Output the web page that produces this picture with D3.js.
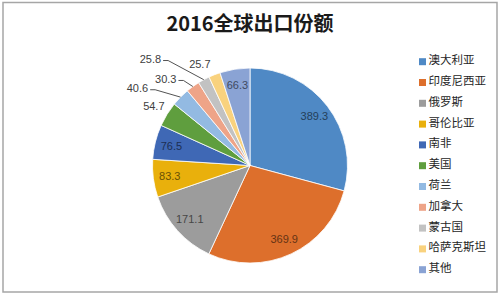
<!DOCTYPE html>
<html>
<head>
<meta charset="utf-8">
<script src="https://cdn.jsdelivr.net/npm/d3@7"></script>
<style>
  body { margin: 0; background: #fff; }
  svg { display: block; font-family: "Liberation Sans", "Noto Sans CJK SC", sans-serif; }
</style>
</head>
<body>
<div id="chart"></div>
<script>
const countries = ["澳大利亚", "印度尼西亚", "俄罗斯", "哥伦比亚", "南非", "美国", "荷兰", "加拿大", "蒙古国", "哈萨克斯坦", "其他"];
const shares = [389.3, 369.9, 171.1, 83.3, 76.5, 54.7, 40.6, 30.3, 25.8, 25.7, 66.3];
const palette = ["#4f89c5", "#dd6f2c", "#9c9c9c", "#e9b00c", "#3f68b5", "#5f9e3e",
                 "#93bae2", "#eea488", "#c2c2c2", "#f9d27e", "#8aa3d4"];

// labels drawn outside the pie (small slices), with nudges to mimic Excel's manual placement
const outside = ["美国", "荷兰", "加拿大", "蒙古国", "哈萨克斯坦"];
const labelShift = { "荷兰": [-32, 2], "加拿大": [-18, 5], "蒙古国": [-46, -7], "哈萨克斯坦": [-9, 4] };
const withLeader = ["荷兰", "加拿大", "蒙古国"];

const data = countries.map((c, i) => ({ country: c, value: shares[i], color: palette[i] }));

const W = 500, H = 295;
const cx = 250, cy = 165.5, R = 97.5;

const svg = d3.select("#chart").append("svg")
  .attr("width", W)
  .attr("height", H);

// chart frame
svg.append("rect")
  .attr("x", 3).attr("y", 2.5)
  .attr("width", 494).attr("height", 289.5)
  .attr("fill", "none")
  .attr("stroke", "#a6a6a6")
  .attr("stroke-width", 1.5);

svg.append("text")
  .attr("x", 250).attr("y", 31)
  .attr("text-anchor", "middle")
  .attr("font-size", 20)
  .attr("font-weight", "bold")
  .attr("fill", "#1a1a1a")
  .attr("font-family", "'Noto Sans CJK SC', sans-serif")
  .text("2016全球出口份额");

const pie = d3.pie().sort(null).value(d => d.value);
const arcs = pie(data);
const arc = d3.arc().innerRadius(0).outerRadius(R);

const g = svg.append("g").attr("transform", `translate(${cx},${cy})`);

g.selectAll("path.slice")
  .data(arcs)
  .enter()
  .append("path")
  .attr("class", "slice")
  .attr("d", arc)
  .attr("fill", d => d.data.color)
  .attr("stroke", "#fff")
  .attr("stroke-width", 0.8);

const mid = d => (d.startAngle + d.endAngle) / 2;
const polar = (a, r) => [Math.sin(a) * r, -Math.cos(a) * r];

// labels
arcs.forEach(d => {
  const isOut = outside.includes(d.data.country);
  let [x, y] = polar(mid(d), isOut ? 113 : 81);
  const sh = labelShift[d.data.country];
  if (sh) { x += sh[0]; y += sh[1]; }

  const t = g.append("text")
    .attr("x", x).attr("y", y)
    .attr("dy", "0.35em")
    .attr("text-anchor", "middle")
    .attr("font-size", 11)
    .attr("fill", isOut ? "#404040" : d3.color(d.data.color).darker(2.2))
    .text(d.data.value.toFixed(1));

  if (withLeader.includes(d.data.country)) {
    const w = t.node().getComputedTextLength();
    const x0 = x + w / 2 + 2, y0 = y + 1.5;
    const [ex, ey] = polar(mid(d), R);
    g.append("path")
      .attr("d", `M${x0},${y0}H${x0 + 5}L${ex},${ey}`)
      .attr("fill", "none")
      .attr("stroke", "#404040")
      .attr("stroke-width", 0.9);
  }
});

// legend
const legend = svg.append("g").attr("transform", "translate(419,61.7)");
const rows = legend.selectAll("g")
  .data(data)
  .enter()
  .append("g")
  .attr("transform", (d, i) => `translate(0,${i * 20.8})`);

rows.append("rect")
  .attr("x", 0).attr("y", -3.5)
  .attr("width", 7).attr("height", 7)
  .attr("fill", d => d.color);

rows.append("text")
  .attr("x", 9.5).attr("y", -1.5)
  .attr("dy", "0.35em")
  .attr("font-size", 11.5)
  .attr("font-family", "'Noto Sans CJK SC', sans-serif")
  .attr("fill", "#262626")
  .text(d => d.country);
</script>
</body>
</html>
